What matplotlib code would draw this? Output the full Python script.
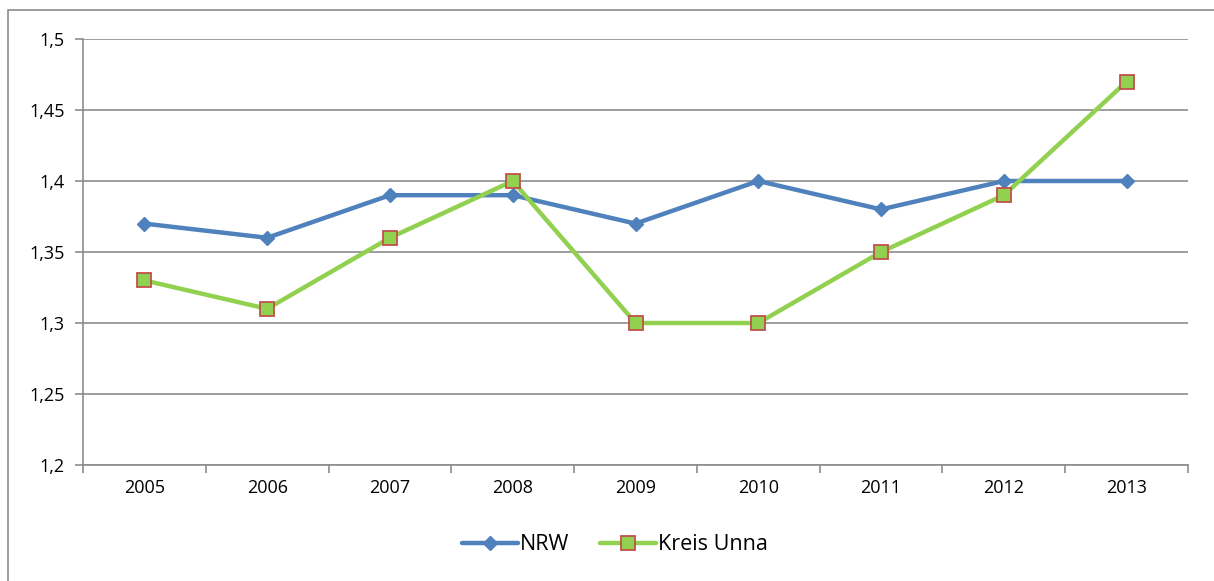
import matplotlib.pyplot as plt
import matplotlib.patches as patches
import numpy as np

years = ['2005', '2006', '2007', '2008', '2009', '2010', '2011', '2012', '2013']
nrw = [1.37, 1.36, 1.39, 1.39, 1.37, 1.40, 1.38, 1.40, 1.40]
unna = [1.33, 1.31, 1.36, 1.40, 1.30, 1.30, 1.35, 1.39, 1.47]
y_ticks = [1.2, 1.25, 1.3, 1.35, 1.4, 1.45, 1.5]
y_labels = ['1,2', '1,25', '1,3', '1,35', '1,4', '1,45', '1,5']

plt.rcParams['font.family'] = ['Open Sans', 'DejaVu Sans']

fig = plt.figure(figsize=(12.14, 5.81), dpi=100)
ax = fig.add_axes([83 / 1214, 1 - 465 / 581, 1105 / 1214, 426 / 581])

# outer chart border (right and bottom cut off in the reference)
border = patches.Rectangle((8 / 1214, -0.1), 1.2, 1 - 10 / 581 + 0.1,
                           transform=fig.transFigure, fill=False,
                           edgecolor='#8c8c8c', linewidth=1.2, clip_on=False)
fig.add_artist(border)

grid_c = '#8c8c8c'
x = np.arange(len(years))

ax.set_xlim(-0.5, len(years) - 0.5)
ax.set_ylim(1.2, 1.5)
ax.set_yticks(y_ticks)
ax.set_yticklabels(y_labels)
ax.set_xticks(x)
ax.set_xticklabels(years)
ax.set_xticks(np.arange(-0.5, len(years)), minor=True)

ax.yaxis.grid(True, color=grid_c, linewidth=1.2)
ax.set_axisbelow(True)
for s in ['top', 'right']:
    ax.spines[s].set_visible(False)
for s in ['left', 'bottom']:
    ax.spines[s].set_color(grid_c)
    ax.spines[s].set_linewidth(1.2)

ax.tick_params(axis='x', which='major', length=0, pad=10, labelsize=13)
ax.tick_params(axis='x', which='minor', length=6, width=1.2, color=grid_c, direction='out')
ax.tick_params(axis='y', length=6, width=1.2, color=grid_c, pad=7, labelsize=13)

ax.plot(x, nrw, color='#4f81bd', linewidth=3.2, marker='D', markersize=7.5,
        markerfacecolor='#4f81bd', markeredgecolor='#4f81bd', label='NRW',
        solid_capstyle='round')
ax.plot(x, unna, color='#92d050', linewidth=3.2, marker='s', markersize=9.5,
        markerfacecolor='#92d050', markeredgecolor='#c0504d', markeredgewidth=1.3,
        label='Kreis Unna', solid_capstyle='round')

leg = fig.legend(loc='center', bbox_to_anchor=(615 / 1214, 1 - 545 / 581), ncol=2,
                 frameon=False, fontsize=15.5, handlelength=2.6, handletextpad=0.1,
                 columnspacing=1.4)

plt.savefig('out.png', dpi=100, facecolor='white')
